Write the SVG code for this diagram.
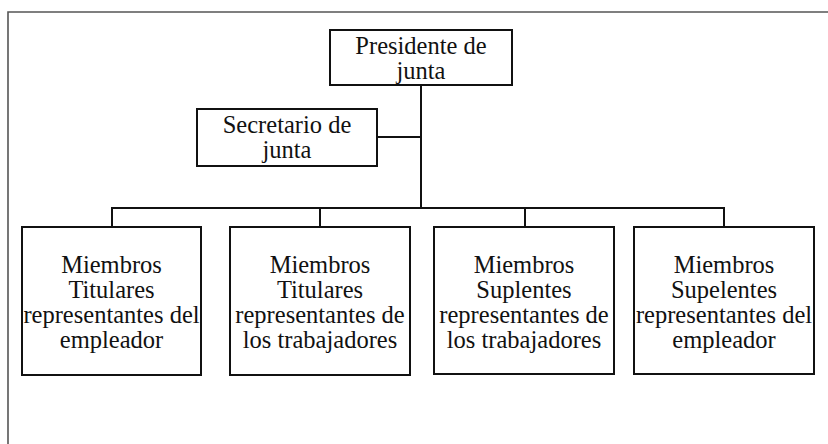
<svg xmlns="http://www.w3.org/2000/svg" width="828" height="444" viewBox="0 0 828 444">
<style>
.box{fill:#fff;stroke:#111;stroke-width:2}
.c{fill:none;stroke:#111;stroke-width:2}
.frame{fill:none;stroke:#555;stroke-width:1.6}
</style>
<rect width="828" height="444" fill="#fff"/>
<path class="frame" d="M828,12 H8 V444"/>
<g id="connectors">
<path class="c" d="M421,85 V208" stroke-width="2.5"/>
<path class="c" d="M377,137 H421"/>
<path class="c" d="M112,227 V208 H724 V227"/>
<path class="c" d="M320,208 V227"/>
<path class="c" d="M525,208 V227"/>
</g>
<g font-family="Liberation Serif" font-size="24.5" fill="#111" text-anchor="middle">
<g id="presidente">
<rect class="box" x="330" y="30" width="182" height="55"/>
<text x="421" y="54">Presidente de</text>
<text x="421" y="79">junta</text>
</g>
<g id="secretario">
<rect class="box" x="197" y="109" width="180" height="57"/>
<text x="287" y="133">Secretario de</text>
<text x="287" y="158">junta</text>
</g>
<g id="titulares-empleador">
<rect class="box" x="22" y="227" width="179" height="148"/>
<text x="111.5" y="272.5">Miembros</text>
<text x="111.5" y="297.5">Titulares</text>
<text x="111.5" y="322.5">representantes del</text>
<text x="111.5" y="347.5">empleador</text>
</g>
<g id="titulares-trabajadores">
<rect class="box" x="230" y="227" width="180" height="148"/>
<text x="320" y="272.5">Miembros</text>
<text x="320" y="297.5">Titulares</text>
<text x="320" y="322.5">representantes de</text>
<text x="320" y="347.5">los trabajadores</text>
</g>
<g id="suplentes-trabajadores">
<rect class="box" x="434" y="227" width="180" height="147"/>
<text x="524" y="272.5">Miembros</text>
<text x="524" y="297.5">Suplentes</text>
<text x="524" y="322.5">representantes de</text>
<text x="524" y="347.5">los trabajadores</text>
</g>
<g id="suplentes-empleador">
<rect class="box" x="634" y="227" width="180" height="147"/>
<text x="724" y="272.5">Miembros</text>
<text x="724" y="297.5">Supelentes</text>
<text x="724" y="322.5">representantes del</text>
<text x="724" y="347.5">empleador</text>
</g>
</g>
</svg>
